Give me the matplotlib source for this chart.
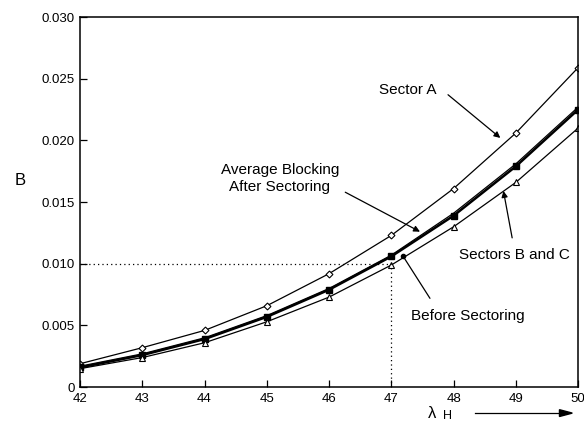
import numpy as np
import matplotlib.pyplot as plt

plt.rcParams['font.family'] = ['Liberation Sans', 'DejaVu Sans']

# offered load (Erlangs) and blocking probability B
lam = [42, 43, 44, 45, 46, 47, 48, 49, 50]
sector_a = [0.0019, 0.0032, 0.0046, 0.0066, 0.0092, 0.0123, 0.0161, 0.0206, 0.0259]
avg_after = [0.0016, 0.0026, 0.0039, 0.0057, 0.0079, 0.0106, 0.0139, 0.0179, 0.0225]
before = [0.0017, 0.0027, 0.0040, 0.0058, 0.0080, 0.0107, 0.0141, 0.0181, 0.0227]
sectors_bc = [0.0015, 0.0024, 0.0036, 0.0053, 0.0073, 0.0099, 0.0130, 0.0166, 0.0210]

fig = plt.figure(figsize=(5.84, 4.25), dpi=100)
ax = fig.add_axes([0.137, 0.089, 0.853, 0.871])

ax.plot(lam, sector_a, 'k-', lw=0.9, marker='D', ms=3.5, mfc='white', mec='k', mew=0.8)
ax.plot(lam, before, 'k-', lw=0.9)
ax.plot(lam, avg_after, 'k-', lw=1.8, marker='s', ms=5, mfc='k', mec='k')
ax.plot(lam, sectors_bc, 'k-', lw=0.9, marker='^', ms=4.5, mfc='white', mec='k', mew=0.8)

# reading at B = 0.010
ax.plot([42, 47], [0.010, 0.010], color='k', ls=(0, (1, 2.5)), lw=0.9)
ax.plot([47, 47], [0, 0.010], color='k', ls=(0, (1, 2.5)), lw=0.9)

ax.set_xlim(42, 50)
ax.set_ylim(0, 0.030)
ax.set_xticks(lam)
ax.set_yticks([0, 0.005, 0.010, 0.015, 0.020, 0.025, 0.030])
ax.set_yticklabels(['0', '0.005', '0.010', '0.015', '0.020', '0.025', '0.030'])
ax.tick_params(direction='in', length=5, width=0.9, labelsize=9.5, pad=4)
for s in ax.spines.values():
    s.set_linewidth(1.1)

# curve labels with pointer arrows
arr = dict(arrowstyle='-|>', color='k', lw=0.9, mutation_scale=9, shrinkA=0, shrinkB=0)
ax.text(47.27, 0.0241, 'Sector A', fontsize=11, ha='center', va='center')
ax.annotate('', xy=(48.75, 0.0202), xytext=(47.91, 0.0237), arrowprops=arr)

ax.text(45.21, 0.0169, 'Average Blocking\nAfter Sectoring', fontsize=11,
        ha='center', va='center', linespacing=1.3)
ax.annotate('', xy=(47.46, 0.0126), xytext=(46.26, 0.0158), arrowprops=arr)

ax.text(48.97, 0.0107, 'Sectors B and C', fontsize=11, ha='center', va='center')
ax.annotate('', xy=(48.80, 0.0159), xytext=(48.94, 0.0121), arrowprops=arr)

ax.text(48.23, 0.0058, 'Before Sectoring', fontsize=11, ha='center', va='center')
ax.annotate('', xy=(47.19, 0.0106), xytext=(47.62, 0.0072),
            arrowprops=dict(arrowstyle='-', color='k', lw=0.9, shrinkA=0, shrinkB=0))
ax.plot([47.19], [0.0106], 'ko', ms=3)

fig.text(0.034, 0.576, 'B', fontsize=12, ha='center', va='center')
fig.text(0.740, 0.026, 'λ', fontsize=12, ha='center', va='center')
fig.text(0.767, 0.022, 'H', fontsize=9, ha='center', va='center')
fig.add_artist(plt.Line2D([0.813, 0.962], [0.028, 0.028], color='k', lw=0.9))
fig.patches.append(plt.Polygon([[0.958, 0.036], [0.958, 0.020], [0.980, 0.028]],
                               closed=True, color='k', transform=fig.transFigure))

fig.savefig('out.png', dpi=100)
